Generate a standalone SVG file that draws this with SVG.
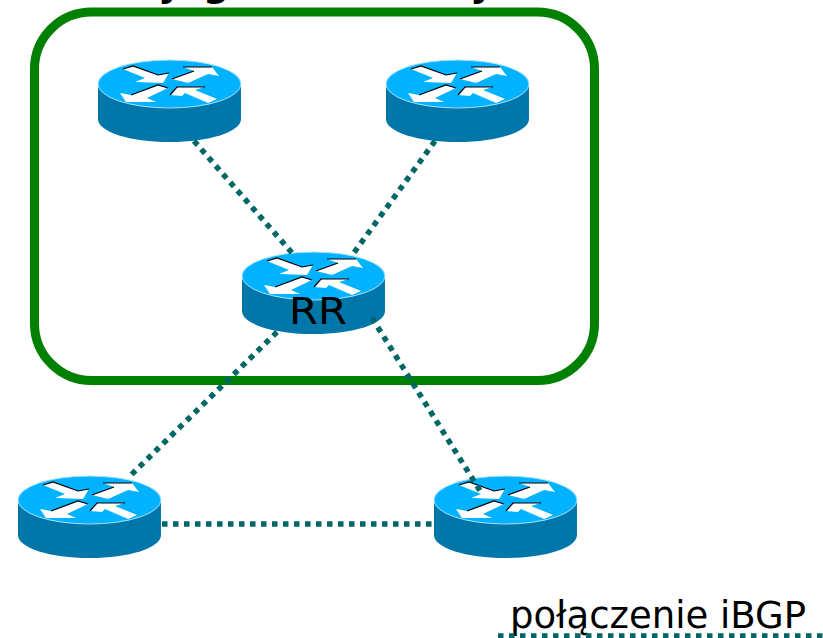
<svg xmlns="http://www.w3.org/2000/svg" width="823" height="638" viewBox="0 0 823 638">
<style>
.link{fill:none;stroke:#006666;stroke-width:5.500;stroke-dasharray:5.500 5.500}
.top{fill:#00b2ff;stroke:#a8e4ff;stroke-width:1}
.side{fill:#0077a8}
.arr{fill:#fff;stroke:none}
.edge{fill:none;stroke:#000;stroke-width:1.200}
text{font-family:"DejaVu Sans","Noto Sans",sans-serif;fill:#000}
.cut{font-weight:bold;font-size:37px}
</style>
<defs>
<g id="router">
<path class="side" d="M0 24V59C0 72 32 82 71.500 82C111 82 143 72 143 59V24Z"/>
<ellipse class="top" cx="71.500" cy="24" rx="71.500" ry="24"/>
<path class="arr" d="M25 9L35 6L60 15L71 13L65 23L37 22L47 18Z"/>
<path class="arr" d="M74 19L96 11L85 7L114 7L121 16L110 14L90 23Z"/>
<path class="arr" d="M33 35L60 25L70 28L49 38L58 42L28 42L22 33Z"/>
<path class="arr" d="M72 35L79 27L107 27L97 30L119 39L110 43L87 33L84 36Z"/>
<path class="edge" d="M25 9L35 6L60 15L71 13M74 19L96 11M85 7L114 7M33 35L60 25L70 28M72 35L79 27L107 27"/>
</g>
</defs>
<g id="title"><text class="cut" x="158" y="-4" font-size="37">y</text><text class="cut" x="203" y="-4">g</text><text class="cut" x="470" y="-4">y</text></g>
<g id="cluster"><rect x="34.500" y="12" width="560" height="368.500" rx="57" ry="57" fill="none" stroke="#008000" stroke-width="9"/></g>
<g id="r1"><use href="#router" x="98" y="60"/></g>
<g id="r2"><use href="#router" x="386" y="60"/></g>
<g id="rr"><use href="#router" x="242" y="252"/><text x="289" y="324" font-size="37" textLength="58" lengthAdjust="spacingAndGlyphs">RR</text></g>
<g id="r4"><use href="#router" x="18" y="476"/></g>
<g id="r5"><use href="#router" x="434" y="476"/></g>
<g id="legend"><text x="510" y="628" font-size="37" textLength="296" lengthAdjust="spacingAndGlyphs">połączenie iBGP</text></g>
<g id="connectors">
<line class="link" x1="194" y1="141" x2="293" y2="254"/>
<line class="link" x1="435" y1="141" x2="353" y2="254"/>
<line class="link" x1="277" y1="332" x2="130" y2="476"/>
<line class="link" x1="372" y1="318" x2="482" y2="494"/>
<line class="link" x1="162" y1="524" x2="434" y2="524"/>
<line class="link" x1="498" y1="636" x2="823" y2="636"/>
</g>
</svg>
